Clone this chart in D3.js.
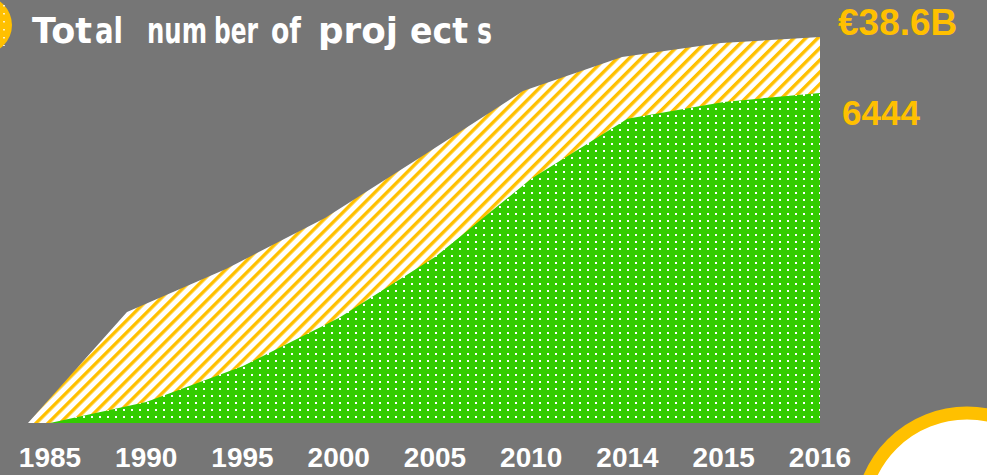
<!DOCTYPE html>
<html>
<head>
<meta charset="utf-8">
<script src="https://cdn.jsdelivr.net/npm/d3@7"></script>
<style>
  html, body { margin: 0; padding: 0; background: #767676; }
  svg { display: block; }
</style>
</head>
<body>
<svg id="chart"></svg>
<script>
// chart values
var years = ["1985", "1990", "1995", "2000", "2005", "2010", "2014", "2015", "2016"];
var funding = [0, 11.1, 15.4, 20.5, 26.8, 33.2, 36.6, 38.0, 38.6];          // EUR billions
var projects = [0, 410, 1110, 2050, 3240, 4770, 5940, 6270, 6444];
var fundingLabel = "€38.6B";
var projectsLabel = "6444";
// title pieces, the original has odd gaps inside words
var titleParts = ["Tot", "al", " ", "num", "ber", " ", "of", " ", "proj", "ect", "s"];

var width = 987, height = 475;
var yellow = "#ffc000", green = "#33cc00", grey = "#767676";

var svg = d3.select("#chart").attr("width", width).attr("height", height);

svg.append("rect").attr("width", width).attr("height", height).attr("fill", grey);

var defs = svg.append("defs");

// diagonal stripes for the funding area
var stripes = defs.append("pattern")
  .attr("id", "stripes")
  .attr("patternUnits", "userSpaceOnUse")
  .attr("width", 8.5).attr("height", 8.5)
  .attr("patternTransform", "rotate(45)");
stripes.append("rect").attr("width", 8.5).attr("height", 8.5).attr("fill", "#fff");
stripes.append("rect").attr("width", 3.4).attr("height", 8.5).attr("fill", yellow);

// small white dots for the projects area
var dots = defs.append("pattern")
  .attr("id", "dots")
  .attr("patternUnits", "userSpaceOnUse")
  .attr("width", 8).attr("height", 7);
dots.append("rect").attr("width", 8).attr("height", 7).attr("fill", green);
dots.append("rect").attr("x", 3).attr("y", 3).attr("width", 2).attr("height", 2).attr("fill", "#fff");

var xFund = d3.scalePoint().domain(years).range([28, 820]);
var xProj = d3.scalePoint().domain(years).range([50, 820]);
var yFund = d3.scaleLinear().domain([0, 38.6]).range([423, 37]);
var yProj = d3.scaleLinear().domain([0, 6444]).range([423, 93]);

var fundArea = d3.area()
  .x(function(d, i) { return xFund(years[i]); })
  .y0(yFund(0))
  .y1(function(d) { return yFund(d); });

var projArea = d3.area()
  .x(function(d, i) { return xProj(years[i]); })
  .y0(yProj(0))
  .y1(function(d) { return yProj(d); });

svg.append("path")
  .datum(funding)
  .attr("d", fundArea)
  .attr("fill", "url(#stripes)");

svg.append("path")
  .datum(projects)
  .attr("d", projArea)
  .attr("fill", "url(#dots)");

// year labels
svg.append("g")
  .selectAll("text")
  .data(years)
  .enter().append("text")
    .attr("x", function(d) { return xProj(d); })
    .attr("y", 467)
    .attr("text-anchor", "middle")
    .attr("fill", "#fff")
    .attr("font-family", "Liberation Sans, Arial, sans-serif")
    .attr("font-weight", "bold")
    .attr("font-size", 28)
    .text(function(d) { return d; });

// end labels
svg.append("text")
  .attr("x", 838).attr("y", 35)
  .attr("fill", yellow)
  .attr("font-family", "Liberation Sans, Arial, sans-serif")
  .attr("font-weight", "bold")
  .attr("font-size", 37)
  .text(fundingLabel);

svg.append("text")
  .attr("x", 842).attr("y", 125)
  .attr("fill", yellow)
  .attr("font-family", "Liberation Sans, Arial, sans-serif")
  .attr("font-weight", "bold")
  .attr("font-size", 35)
  .text(projectsLabel);

// title
var titleX = [32, 95, null, 147, 214, null, 271, null, 318, 410, 477];
var titleW = [60, 28, null, 60, 44, null, 30, null, 80, 58, 15];
var title = svg.append("text")
  .attr("y", 43)
  .attr("fill", "#fff")
  .attr("font-family", "DejaVu Sans, sans-serif")
  .attr("font-weight", "bold")
  .attr("font-size", 36);
title.selectAll("tspan")
  .data(titleParts)
  .enter().append("tspan")
    .attr("x", function(d, i) { return titleX[i]; })
    .attr("textLength", function(d, i) { return titleW[i]; })
    .attr("lengthAdjust", "spacingAndGlyphs")
    .attr("font-size", function(d) { return d == " " ? 2 : null; })
    .text(function(d) { return d; });

// decorative circles
svg.append("circle")
  .attr("cx", -17).attr("cy", 25).attr("r", 29)
  .attr("fill", yellow);
svg.append("line")
  .attr("x1", 4).attr("x2", 4).attr("y1", 5).attr("y2", 46)
  .attr("stroke", "#fff").attr("stroke-width", 1.5)
  .attr("stroke-dasharray", "1.5,6.5");

svg.append("circle")
  .attr("cx", 967).attr("cy", 519).attr("r", 106)
  .attr("fill", "#fff")
  .attr("stroke", yellow)
  .attr("stroke-width", 13);
</script>
</body>
</html>
